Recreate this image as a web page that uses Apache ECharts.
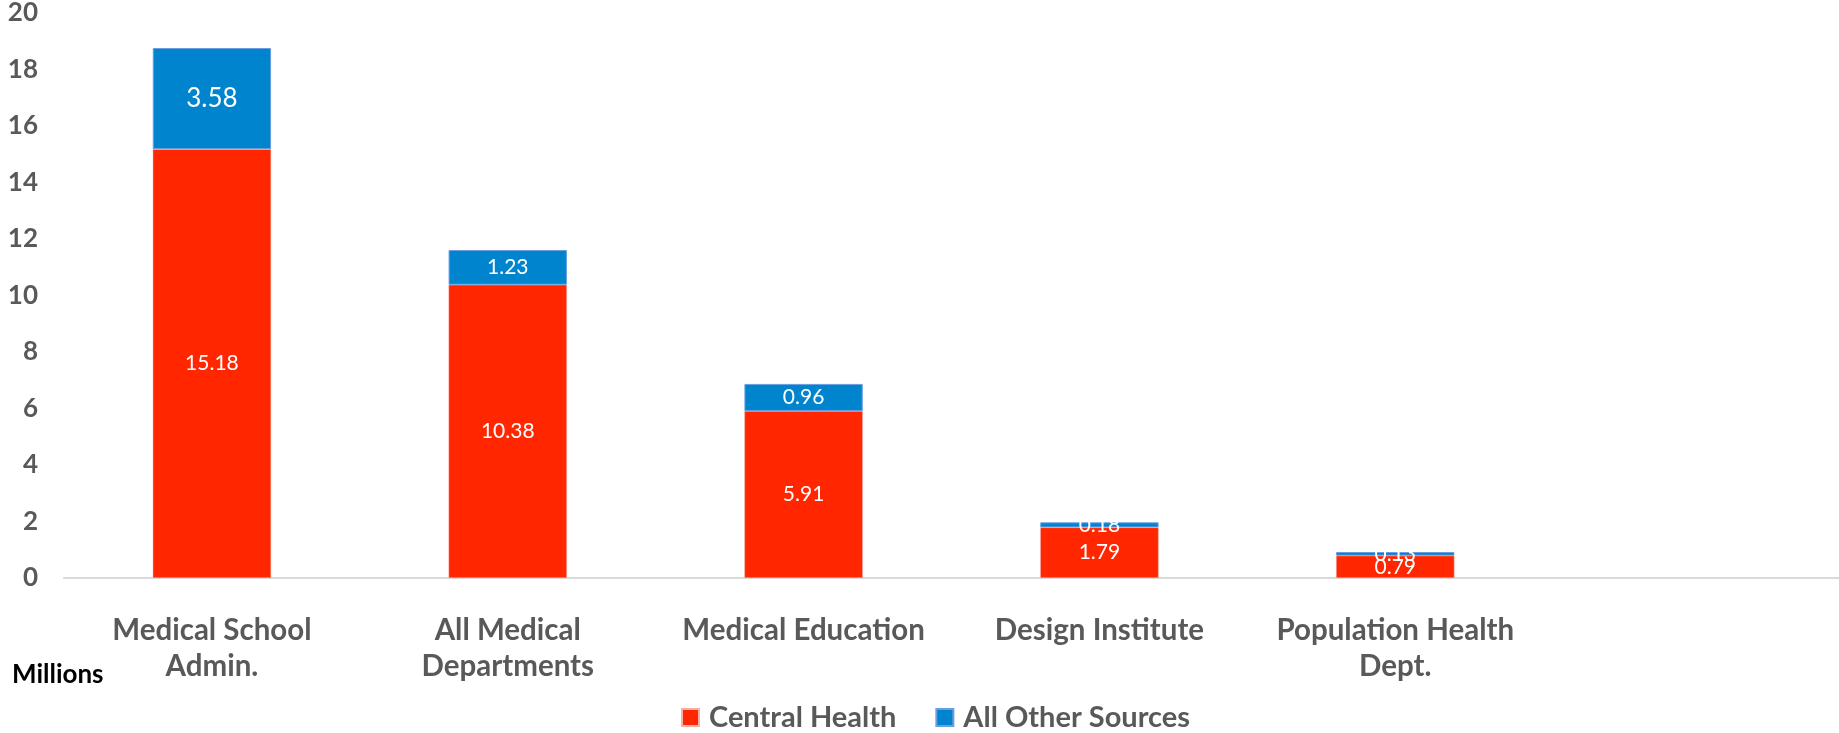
<!DOCTYPE html>
<html>
<head>
<meta charset="utf-8">
<script src="https://cdn.jsdelivr.net/npm/echarts@6/dist/echarts.min.js"></script>
<style>
html,body{margin:0;padding:0;background:#fff;}
#chart{width:1839px;height:733px;}
</style>
</head>
<body>
<div id="chart"></div>
<script>
const categories = ['Medical School\nAdmin.', 'All Medical\nDepartments', 'Medical Education', 'Design Institute', 'Population Health\nDept.'];
const centralHealth = [15.18, 10.38, 5.91, 1.79, 0.79];
const otherSources = [3.58, 1.23, 0.96, 0.18, 0.13];
const seriesNames = ['Central Health', 'All Other Sources'];
const yTicks = {min: 0, max: 20, interval: 2};
const unitLabel = 'Millions';

const FONT = 'Lato, "Open Sans", sans-serif';
const axisCats = categories.concat(['']);

const chart = echarts.init(document.getElementById('chart'), null, {renderer: 'canvas'});
chart.setOption({
  animation: false,
  backgroundColor: '#ffffff',
  grid: {left: 64, right: 0, top: 12, bottom: 155, containLabel: false},
  legend: {
    left: 676, top: 698,
    itemWidth: 17, itemHeight: 17, itemGap: 39,
    icon: 'rect',
    textStyle: {fontFamily: FONT, fontSize: 29, fontWeight: 'bold', color: '#595959', padding: [0, 0, 0, 5]},
    data: seriesNames
  },
  xAxis: {
    type: 'category',
    data: axisCats,
    axisLine: {show: true, lineStyle: {color: '#d9d9d9', width: 2}},
    axisTick: {show: false},
    axisLabel: {
      interval: 0, margin: 34, fontFamily: FONT, fontSize: 29.5, fontWeight: 'bold',
      color: '#595959', lineHeight: 36
    }
  },
  yAxis: {
    type: 'value', min: yTicks.min, max: yTicks.max, interval: yTicks.interval,
    axisLine: {show: false}, axisTick: {show: false},
    splitLine: {show: false},
    axisLabel: {margin: 26, fontFamily: FONT, fontSize: 26, fontWeight: 'bold', color: '#595959'}
  },
  graphic: [{
    type: 'text', left: 12, top: 662,
    style: {text: unitLabel, fontFamily: FONT, fontSize: 26, fontWeight: 'bold', fill: '#000000'}
  }],
  series: [
    {
      name: seriesNames[0], type: 'bar', stack: 'total', barWidth: '40%',
      itemStyle: {color: '#ff2600', borderColor: '#f7b0a8', borderWidth: 0.5},
      label: {show: true, position: 'inside', color: '#ffffff', fontFamily: FONT, fontSize: 21,
        formatter: p => p.value.toFixed(2)},
      data: centralHealth
    },
    {
      name: seriesNames[1], type: 'bar', stack: 'total', barWidth: '40%',
      itemStyle: {color: '#0084ce', borderColor: '#6a9ee0', borderWidth: 1},
      label: {show: true, position: 'inside', color: '#ffffff', fontFamily: FONT, fontSize: 21,
        formatter: p => p.value.toFixed(2)},
      data: otherSources.map((v, i) => i === 0 ? {value: v, label: {fontSize: 26}} : v)
    }
  ]
});
</script>
</body>
</html>
